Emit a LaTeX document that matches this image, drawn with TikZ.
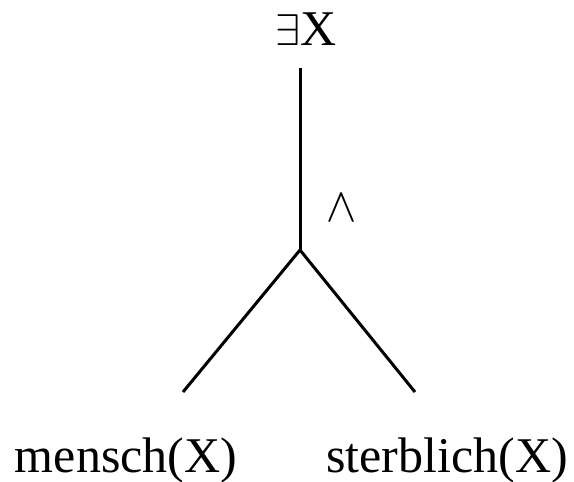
\documentclass[tikz,border=0pt]{standalone}
\usepackage{fontspec}
\setmainfont{Liberation Serif}
\newfontfamily\symfnt{Latin Modern Math}
\begin{document}
\begin{tikzpicture}[x=1pt, y=-1pt, line width=3pt]
  \useasboundingbox (0,0) rectangle (574,482);
  \tikzset{leaf/.style={anchor=base, inner sep=0pt, font=\fontsize{50}{60}\selectfont}}

  \node[leaf] (ex) at (306,45) {{\symfnt\fontsize{45}{54}\selectfont ∃}X};
  \node[inner sep=0pt, font=\symfnt\fontsize{48}{56}\selectfont] (and) at (342,208) {∧};

  \coordinate (top) at (300,68);
  \coordinate (J) at (300,250);
  \coordinate (L) at (183,392);
  \coordinate (R) at (415,392);

  \draw (top) -- (J);
  \draw (J) -- (L);
  \draw (J) -- (R);

  \node[leaf] (mensch) at (126,472) {mensch(X)};
  \node[leaf] (sterb) at (447,472) {sterblich(X)};
\end{tikzpicture}
\end{document}
